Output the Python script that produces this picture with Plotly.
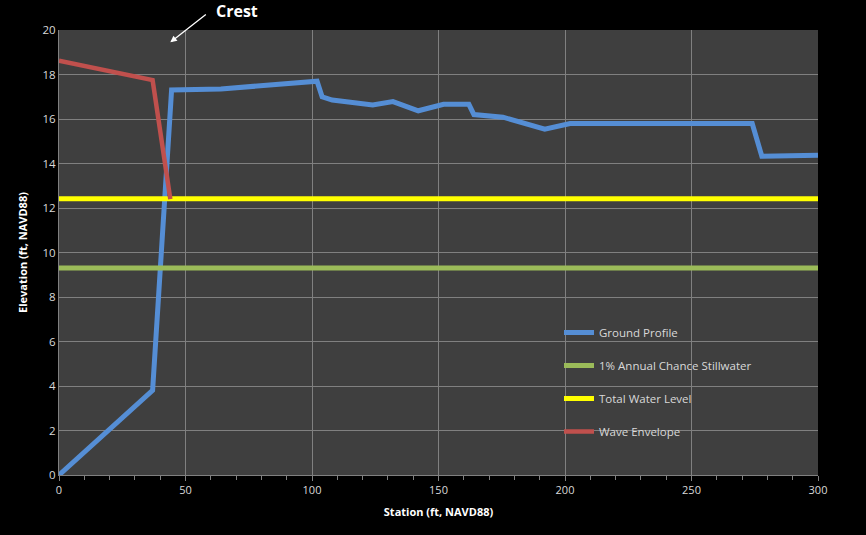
import plotly.graph_objects as go

# Cross-section survey data
ground_station = [0, 37, 44.5, 64, 102, 104, 108, 124, 132, 142, 152, 162, 164, 175.5, 192, 202, 274, 277.8, 300]
ground_elev = [0, 3.8, 17.3, 17.35, 17.7, 17.0, 16.85, 16.63, 16.78, 16.37, 16.66, 16.66, 16.2, 16.08, 15.54, 15.8, 15.8, 14.33, 14.37]

stillwater_station = [0, 300]
stillwater_elev = [9.3, 9.3]

twl_station = [0, 300]
twl_elev = [12.42, 12.42]

wave_station = [0, 37, 44]
wave_elev = [18.62, 17.75, 12.4]

x_ticks = [0, 50, 100, 150, 200, 250, 300]
y_ticks = [0, 2, 4, 6, 8, 10, 12, 14, 16, 18, 20]

FONT = "Open Sans, Liberation Sans, sans-serif"
TXT = "#D9D9D9"
GRID = "#808080"

fig = go.Figure()
fig.add_trace(go.Scatter(x=ground_station, y=ground_elev, mode="lines", name="Ground Profile",
                         line=dict(color="#558ED5", width=5), legendgroup="a"))
fig.add_trace(go.Scatter(x=stillwater_station, y=stillwater_elev, mode="lines",
                         name="1% Annual Chance Stillwater",
                         line=dict(color="#9BBB59", width=5), legendgroup="b"))
fig.add_trace(go.Scatter(x=twl_station, y=twl_elev, mode="lines", name="Total Water Level",
                         line=dict(color="#FFFF00", width=5), legendgroup="c"))
fig.add_trace(go.Scatter(x=wave_station, y=wave_elev, mode="lines", name="Wave Envelope",
                         line=dict(color="#C0504D", width=4.5), legendgroup="d"))

# Crest label with pointer
fig.add_annotation(x=44, y=19.45, xref="x", yref="y", ax=37, ay=-29, axref="pixel", ayref="pixel",
                   text="", showarrow=True, arrowhead=2, arrowsize=1, arrowwidth=1.3,
                   arrowcolor="white")
fig.add_annotation(x=(237 - 59) / 759, y=(475 - 11) / 445, xref="paper", yref="paper",
                   text="<b>Crest</b>", showarrow=False, xanchor="center", yanchor="middle",
                   font=dict(family=FONT, size=16, color="white"))

fig.update_layout(
    width=866, height=535,
    margin=dict(l=59, r=48, t=30, b=60),
    paper_bgcolor="black",
    plot_bgcolor="#3F3F3F",
    font=dict(family=FONT, size=11, color=TXT),
    showlegend=True,
    legend=dict(x=(559 - 59) / 759, y=(475 - 318) / 445, xanchor="left", yanchor="top",
                bgcolor="rgba(0,0,0,0)", font=dict(family=FONT, size=11.5, color=TXT),
                itemwidth=30, tracegroupgap=14, traceorder="grouped"),
    xaxis=dict(range=[0, 300], tickvals=x_ticks, showgrid=True, gridcolor=GRID, gridwidth=1,
               zeroline=False, showline=True, linecolor=GRID, ticks="outside", ticklen=5,
               tickcolor=GRID, tickfont=dict(size=11, color=TXT),
               minor=dict(dtick=10, ticks="outside", ticklen=4, tickcolor=GRID, showgrid=False),
               title=dict(text="<b>Station (ft, NAVD88)</b>", font=dict(size=11, color="white"),
                          standoff=12)),
    yaxis=dict(range=[0, 20], tickvals=y_ticks, showgrid=True, gridcolor=GRID, gridwidth=1,
               zeroline=False, showline=True, linecolor=GRID, ticks="", ticklen=0,
               tickfont=dict(size=11.5, color=TXT),
               title=dict(text="<b>Elevation (ft, NAVD88)</b>", font=dict(size=11, color="white"),
                          standoff=12)),
)

fig.write_html("out.html")
